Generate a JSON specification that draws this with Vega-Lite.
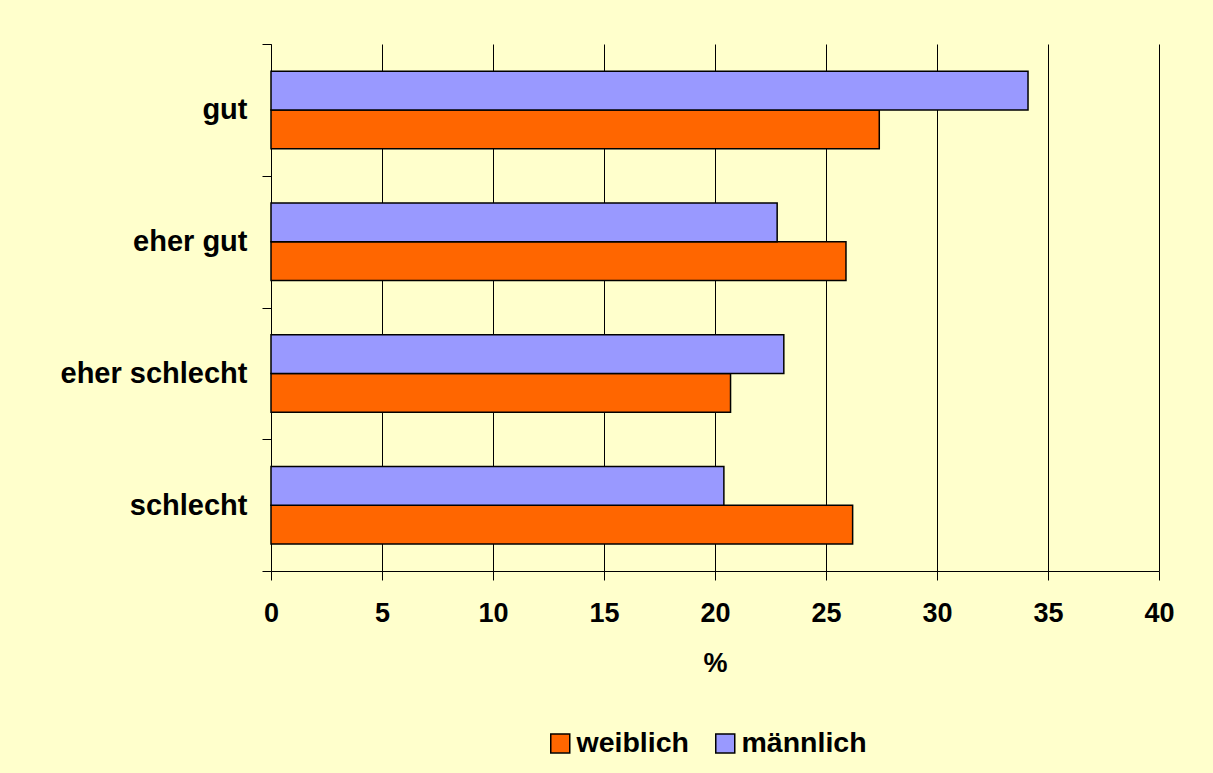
{
  "$schema": "https://vega.github.io/schema/vega-lite/v6.json",
  "width": 888,
  "height": 527,
  "autosize": {"type": "none"},
  "padding": {"left": 271, "top": 44, "right": 54, "bottom": 202},
  "background": "#FFFFCC",
  "config": {
    "view": {"stroke": null},
    "font": "Liberation Sans"
  },
  "data": {
    "values": [
      {"Bewertung": "gut", "Geschlecht": "weiblich", "Prozent": 27.4},
      {"Bewertung": "gut", "Geschlecht": "männlich", "Prozent": 34.1},
      {"Bewertung": "eher gut", "Geschlecht": "weiblich", "Prozent": 25.9},
      {"Bewertung": "eher gut", "Geschlecht": "männlich", "Prozent": 22.8},
      {"Bewertung": "eher schlecht", "Geschlecht": "weiblich", "Prozent": 20.7},
      {"Bewertung": "eher schlecht", "Geschlecht": "männlich", "Prozent": 23.1},
      {"Bewertung": "schlecht", "Geschlecht": "weiblich", "Prozent": 26.2},
      {"Bewertung": "schlecht", "Geschlecht": "männlich", "Prozent": 20.4}
    ]
  },
  "mark": {"type": "bar", "stroke": "black", "strokeWidth": 1.5},
  "encoding": {
    "y": {
      "field": "Bewertung",
      "type": "nominal",
      "sort": ["gut", "eher gut", "eher schlecht", "schlecht"],
      "scale": {"paddingInner": 0, "paddingOuter": 0},
      "axis": {
        "title": null,
        "tickBand": "extent",
        "grid": false,
        "domainColor": "black",
        "domainWidth": 1,
        "tickColor": "black",
        "tickSize": 9,
        "labelFont": "Liberation Sans",
        "labelFontWeight": "bold",
        "labelFontSize": 29,
        "labelColor": "black",
        "labelPadding": 15,
        "labelLimit": 0
      }
    },
    "yOffset": {
      "field": "Geschlecht",
      "type": "nominal",
      "scale": {"domain": ["männlich", "weiblich"], "paddingInner": 0, "paddingOuter": 0.7}
    },
    "x": {
      "field": "Prozent",
      "type": "quantitative",
      "scale": {"domain": [0, 40], "nice": false},
      "axis": {
        "title": "%",
        "values": [0, 5, 10, 15, 20, 25, 30, 35, 40],
        "labelFlush": false,
        "grid": true,
        "gridColor": "black",
        "gridWidth": 1,
        "gridOpacity": 1,
        "domainColor": "black",
        "domainWidth": 1,
        "tickColor": "black",
        "tickSize": 9,
        "labelFont": "Liberation Sans",
        "labelFontWeight": "bold",
        "labelFontSize": 27,
        "labelColor": "black",
        "labelPadding": 20,
        "titleFont": "Liberation Sans",
        "titleFontWeight": "bold",
        "titleFontSize": 27,
        "titleColor": "black",
        "titlePadding": 24
      }
    },
    "color": {
      "field": "Geschlecht",
      "type": "nominal",
      "scale": {"domain": ["weiblich", "männlich"], "range": ["#FF6600", "#9999FF"]},
      "legend": {
        "title": null,
        "orient": "none",
        "legendX": 275,
        "legendY": 685,
        "direction": "horizontal",
        "symbolType": "square",
        "symbolSize": 361,
        "symbolStrokeColor": "black",
        "symbolStrokeWidth": 1.5,
        "symbolOpacity": 1,
        "labelFont": "Liberation Sans",
        "labelFontWeight": "bold",
        "labelFontSize": 28.5,
        "labelColor": "black",
        "labelOffset": 2,
        "columnPadding": 22
      }
    }
  }
}
